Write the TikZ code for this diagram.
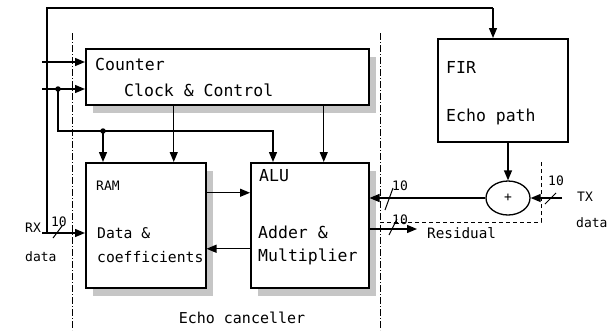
\documentclass[tikz,border=0pt]{standalone}
\usepackage{fontspec}
\setmainfont{DejaVu Sans Mono}
\usetikzlibrary{arrows.meta,shapes.geometric,shadows}

\begin{document}
\begin{tikzpicture}[x=1pt,y=-1pt,
  blk/.style={rectangle,draw,line width=1.5pt,fill=white,anchor=north west,inner sep=0pt},
  shd/.style={drop shadow={shadow xshift=7pt,shadow yshift=-8pt,fill=gray!45,opacity=1}},
  lbl/.style={anchor=west,inner sep=0pt,font=\fontsize{16.5}{18}\selectfont},
  small/.style={anchor=west,inner sep=0pt,font=\fontsize{13}{15}\selectfont},
  arr/.style={-{Triangle[length=10pt,width=8pt]},line width=1.3pt},
  bus/.style={line width=1pt},
  bound/.style={line width=0.7pt,dash pattern=on 7pt off 2pt on 1pt off 2pt},
  dot/.style={circle,fill,inner sep=0pt,minimum size=5.5pt}]

  \useasboundingbox (0,0) rectangle (611,330);

  % echo canceller boundary
  \draw[bound] (72,33) -- (72,330);
  \draw[bound] (380,33) -- (380,330);
  \draw[line width=0.7pt,dash pattern=on 4pt off 3pt] (380,222) -| (541,160);

  \node[blk,shd,minimum width=283pt,minimum height=56pt] (cnt) at (85,48) {};
  \node[blk,shd,minimum width=120pt,minimum height=125pt] (ram) at (85,162) {};
  \node[blk,shd,minimum width=118pt,minimum height=125pt] (alu) at (250,162) {};
  \node[blk,minimum width=130pt,minimum height=103pt] (fir) at (437,38) {};
  \node[ellipse,draw,line width=1.3pt,fill=white,minimum width=44pt,minimum height=34pt,
    inner sep=0pt,font=\fontsize{13}{15}\selectfont] (sum) at (508,198) {+};

  \node[lbl] (cnttxt) at (95,64) {Counter};
  \node[lbl] (clktxt) at (124,90) {Clock \& Control};
  \node[small] (ramtxt) at (96,186) {RAM};
  \node[lbl,font=\fontsize{14.7}{17}\selectfont] (ramd) at (97,233) {Data \&};
  \node[lbl,font=\fontsize{14.7}{17}\selectfont] (ramc) at (97,257) {coefficients};
  \node[lbl] (alutxt) at (259,176) {ALU};
  \node[lbl] (alud) at (258,232) {Adder \&};
  \node[lbl] (alum) at (258,257) {Multiplier};
  \node[lbl] (firtxt) at (446,67) {FIR};
  \node[lbl] (fire) at (446,117) {Echo path};
  \node[small] (rxtxt) at (25,228) {RX};
  \node[small] (rxd) at (25,257) {data};
  \node[small] (txtxt) at (577,197) {TX};
  \node[small] (txd) at (576,223) {data};
  \node[lbl,font=\fontsize{14.3}{16}\selectfont] (restxt) at (427,233) {Residual};
  \node[lbl,anchor=center,font=\fontsize{15}{17}\selectfont] (ectxt) at (242,318) {Echo canceller};

  \node[small,anchor=center] (w1) at (59,222) {10};
  \node[small,anchor=center] (w2) at (400,186) {10};
  \node[small,anchor=center] (w3) at (400,220) {10};
  \node[small,anchor=center] (w4) at (556,181) {10};

  \coordinate (rxin) at (42,233);
  \coordinate (rxj) at (47,233);
  \coordinate (fbtop) at (493,8);
  \coordinate (ci1) at (42,62);
  \coordinate (ci2) at (42,89);
  \coordinate (bus) at (273,131);
  \coordinate (ramtop) at ([xshift=28pt]ram.north);
  \coordinate (alutop) at ([xshift=14pt]alu.north);
  \coordinate (resend) at (417,229);
  \coordinate (txin) at (562,198);
  \node[dot] (j1) at (58,89) {};
  \node[dot] (j2) at (103,131) {};

  \draw[arr] (rxin) -- (ram.west |- rxin);
  \draw[line width=1.3pt] (rxj) |- (fbtop);
  \draw[arr] (fbtop) -- (fbtop |- fir.north);
  \draw[arr] (ci1) -- (ci1 -| cnt.west);
  \draw[arr] (ci2) -- (ci2 -| cnt.west);
  \draw[arr] (j1.center) |- (bus) -- (bus |- alu.north);
  \draw[arr] (j2.center) -- (j2 |- ram.north);
  \draw[arr] (cnt.south -| ramtop) -- (ramtop);
  \draw[arr] (cnt.south -| alutop) -- (alutop);
  \draw[arr] ([yshift=32.5pt]ram.east) -- ([yshift=32.5pt]alu.west);
  \draw[arr] ([yshift=-23.5pt]alu.west) -- ([yshift=-23.5pt]ram.east);
  \draw[arr] (fir.south -| sum.north) -- (sum.north);
  \draw[arr] (sum.west) -- (sum.west -| alu.east);
  \draw[arr] (alu.east |- resend) -- (resend);
  \draw[arr] (txin) -- (sum.east);

  \draw[bus] (53,238) -- (62,226);
  \draw[bus] (385,210) -- (393,188);
  \draw[bus] (389,235) -- (397,219);
  \draw[bus] (545,204) -- (556,193);
\end{tikzpicture}
\end{document}
